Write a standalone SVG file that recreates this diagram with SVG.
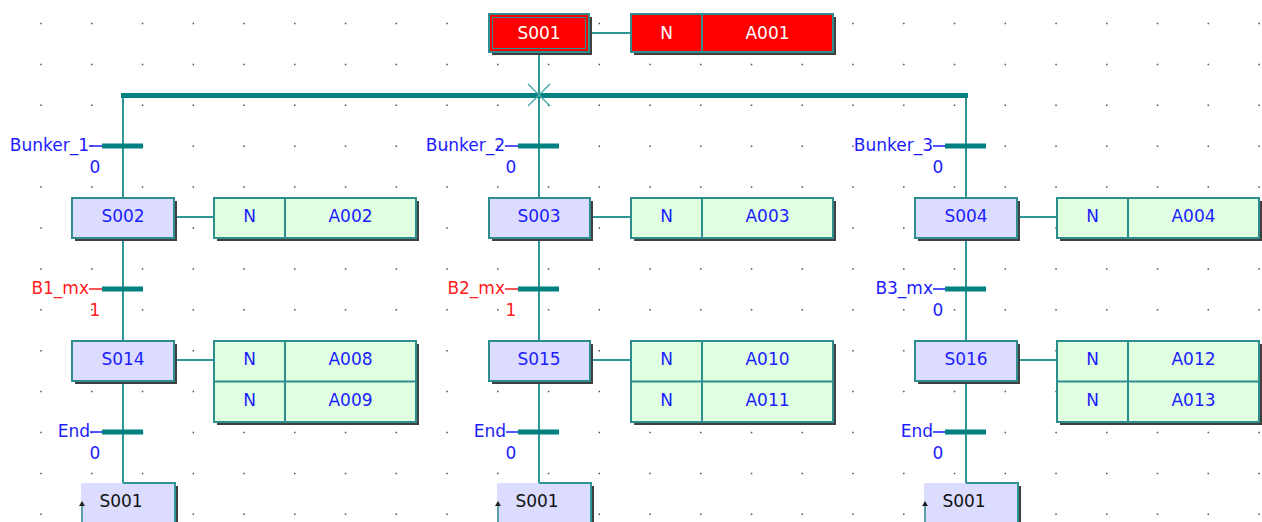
<svg xmlns="http://www.w3.org/2000/svg" width="1262" height="522" viewBox="0 0 1262 522">
<style>
.dot{stroke:#505050;stroke-width:1.5;stroke-dasharray:1.5 49.25}
.ln{stroke:#2e9696;stroke-width:2;fill:none}
.bar{stroke:#008080;stroke-width:5}
.star{stroke:#4aa8a8;stroke-width:1.5}
.sh{fill:#404040}
.step{fill:#dcdcff;stroke:#2e8e8e;stroke-width:2}
.act{fill:#e0ffe0;stroke:#2e8e8e;stroke-width:2}
.red{fill:#ff0000;stroke:#2e8e8e;stroke-width:2}
.div{stroke:#2e8e8e;stroke-width:2}
.dsh{stroke-width:1.5}
.jf{fill:#dcdcff}
.jsh{stroke:#404040;stroke-width:2}
text{font-family:"DejaVu Sans",Verdana,sans-serif;font-size:17px}
.c{text-anchor:middle}
.e{text-anchor:end}
.blue{fill:#1c1cff}
.rt{fill:#ff1c1c}
.wt{fill:#ffffff}
.bk{fill:#111111}
</style>
<rect width="1262" height="522" fill="#ffffff"/>
<g id="grid">
<line class="dot" x1="40.3" y1="23.5" x2="1262" y2="23.5"/>
<line class="dot" x1="40.3" y1="64.4" x2="1262" y2="64.4"/>
<line class="dot" x1="40.3" y1="105.3" x2="1262" y2="105.3"/>
<line class="dot" x1="40.3" y1="146.2" x2="1262" y2="146.2"/>
<line class="dot" x1="40.3" y1="187.1" x2="1262" y2="187.1"/>
<line class="dot" x1="40.3" y1="228" x2="1262" y2="228"/>
<line class="dot" x1="40.3" y1="268.9" x2="1262" y2="268.9"/>
<line class="dot" x1="40.3" y1="309.8" x2="1262" y2="309.8"/>
<line class="dot" x1="40.3" y1="350.7" x2="1262" y2="350.7"/>
<line class="dot" x1="40.3" y1="391.6" x2="1262" y2="391.6"/>
<line class="dot" x1="40.3" y1="432.5" x2="1262" y2="432.5"/>
<line class="dot" x1="40.3" y1="473.4" x2="1262" y2="473.4"/>
<line class="dot" x1="40.3" y1="514.3" x2="1262" y2="514.3"/>
</g>

<g id="connectors">
<line class="ln" x1="123" y1="95" x2="123" y2="483"/>
<line class="ln" x1="539" y1="52" x2="539" y2="483"/>
<line class="ln" x1="966" y1="95" x2="966" y2="483"/>
<line class="bar" x1="121" y1="95.5" x2="968" y2="95.5"/>
<line class="star" x1="528" y1="84" x2="550" y2="106"/>
<line class="star" x1="550" y1="84" x2="528" y2="106"/>
<line class="ln" x1="589" y1="33" x2="631" y2="33"/>
<line class="ln" x1="174" y1="217" x2="214" y2="217"/>
<line class="ln" x1="174" y1="360" x2="214" y2="360"/>
<line class="ln" x1="590" y1="217" x2="631" y2="217"/>
<line class="ln" x1="590" y1="360" x2="631" y2="360"/>
<line class="ln" x1="1017" y1="217" x2="1057" y2="217"/>
<line class="ln" x1="1017" y1="360" x2="1057" y2="360"/>
</g>

<g id="S001">
<rect class="sh" x="492" y="17" width="100" height="38"/>
<rect class="red" x="489" y="14" width="100" height="38"/>
<rect x="492.5" y="17.5" width="93" height="31" fill="none" stroke="#2e8e8e" stroke-width="1"/>
<text class="c wt" x="539" y="39">S001</text>
</g>
<g id="A001">
<rect class="sh" x="634" y="17" width="202" height="38"/>
<rect class="red" x="631" y="14" width="202" height="38"/>
<line class="div" x1="702" y1="14" x2="702" y2="52"/>
<text class="c wt" x="666.5" y="39">N</text>
<text class="c wt" x="767.5" y="39">A001</text>
</g>

<!-- Branch 1 -->
<g id="T_Bunker_1">
<line class="bar" x1="102" y1="146" x2="143" y2="146"/>
<line class="dsh" stroke="#1c1cff" x1="89" y1="146" x2="102" y2="146"/>
<text class="e blue" x="89" y="151">Bunker_1</text>
<text class="c blue" x="95" y="173">0</text>
</g>
<g id="S002">
<rect class="sh" x="75" y="201" width="102" height="40"/>
<rect class="step" x="72" y="198" width="102" height="40"/>
<text class="c blue" x="123" y="222">S002</text>
</g>
<g id="A002">
<rect class="sh" x="217" y="201" width="202" height="40"/>
<rect class="act" x="214" y="198" width="202" height="40"/>
<line class="div" x1="285" y1="198" x2="285" y2="238"/>
<text class="c blue" x="249.5" y="222">N</text>
<text class="c blue" x="350.5" y="222">A002</text>
</g>
<g id="T_B1_mx">
<line class="bar" x1="102" y1="289" x2="143" y2="289"/>
<line class="dsh" stroke="#ff1c1c" x1="89" y1="289" x2="102" y2="289"/>
<text class="e rt" x="89" y="294">B1_mx</text>
<text class="c rt" x="95" y="316">1</text>
</g>
<g id="S014">
<rect class="sh" x="75" y="344" width="102" height="40"/>
<rect class="step" x="72" y="341" width="102" height="40"/>
<text class="c blue" x="123" y="365">S014</text>
</g>
<g id="A008_A009">
<rect class="sh" x="217" y="344" width="202" height="81"/>
<rect class="act" x="214" y="341" width="202" height="81"/>
<line class="div" x1="214" y1="381.5" x2="416" y2="381.5"/>
<line class="div" x1="285" y1="341" x2="285" y2="422"/>
<text class="c blue" x="249.5" y="365">N</text>
<text class="c blue" x="350.5" y="365">A008</text>
<text class="c blue" x="249.5" y="406">N</text>
<text class="c blue" x="350.5" y="406">A009</text>
</g>
<g id="T_End_1">
<line class="bar" x1="102" y1="432" x2="143" y2="432"/>
<line class="dsh" stroke="#1c1cff" x1="90" y1="432" x2="102" y2="432"/>
<text class="e blue" x="90" y="437">End</text>
<text class="c blue" x="95" y="459">0</text>
</g>
<g id="J_S001_1">
<rect class="jf" x="81" y="483" width="94" height="40"/>
<polyline class="ln" points="123,483 175,483 175,522"/>
<line class="jsh" x1="177" y1="486" x2="177" y2="522"/>
<line stroke="#2e8e8e" stroke-width="1.5" x1="82" y1="505" x2="82" y2="522"/>
<polygon points="79,506 82,501 85,506" fill="#222"/>
<text class="c bk" x="121" y="507">S001</text>
</g>

<!-- Branch 2 -->
<g id="T_Bunker_2">
<line class="bar" x1="518" y1="146" x2="559" y2="146"/>
<line class="dsh" stroke="#1c1cff" x1="505" y1="146" x2="518" y2="146"/>
<text class="e blue" x="505" y="151">Bunker_2</text>
<text class="c blue" x="511" y="173">0</text>
</g>
<g id="S003">
<rect class="sh" x="492" y="201" width="101" height="40"/>
<rect class="step" x="489" y="198" width="101" height="40"/>
<text class="c blue" x="539" y="222">S003</text>
</g>
<g id="A003">
<rect class="sh" x="634" y="201" width="202" height="40"/>
<rect class="act" x="631" y="198" width="202" height="40"/>
<line class="div" x1="702" y1="198" x2="702" y2="238"/>
<text class="c blue" x="666.5" y="222">N</text>
<text class="c blue" x="767.5" y="222">A003</text>
</g>
<g id="T_B2_mx">
<line class="bar" x1="518" y1="289" x2="559" y2="289"/>
<line class="dsh" stroke="#ff1c1c" x1="505" y1="289" x2="518" y2="289"/>
<text class="e rt" x="505" y="294">B2_mx</text>
<text class="c rt" x="511" y="316">1</text>
</g>
<g id="S015">
<rect class="sh" x="492" y="344" width="101" height="40"/>
<rect class="step" x="489" y="341" width="101" height="40"/>
<text class="c blue" x="539" y="365">S015</text>
</g>
<g id="A010_A011">
<rect class="sh" x="634" y="344" width="202" height="81"/>
<rect class="act" x="631" y="341" width="202" height="81"/>
<line class="div" x1="631" y1="381.5" x2="833" y2="381.5"/>
<line class="div" x1="702" y1="341" x2="702" y2="422"/>
<text class="c blue" x="666.5" y="365">N</text>
<text class="c blue" x="767.5" y="365">A010</text>
<text class="c blue" x="666.5" y="406">N</text>
<text class="c blue" x="767.5" y="406">A011</text>
</g>
<g id="T_End_2">
<line class="bar" x1="518" y1="432" x2="559" y2="432"/>
<line class="dsh" stroke="#1c1cff" x1="506" y1="432" x2="518" y2="432"/>
<text class="e blue" x="506" y="437">End</text>
<text class="c blue" x="511" y="459">0</text>
</g>
<g id="J_S001_2">
<rect class="jf" x="497" y="483" width="94" height="40"/>
<polyline class="ln" points="539,483 591,483 591,522"/>
<line class="jsh" x1="593" y1="486" x2="593" y2="522"/>
<line stroke="#2e8e8e" stroke-width="1.5" x1="498" y1="505" x2="498" y2="522"/>
<polygon points="495,506 498,501 501,506" fill="#222"/>
<text class="c bk" x="537" y="507">S001</text>
</g>

<!-- Branch 3 -->
<g id="T_Bunker_3">
<line class="bar" x1="945" y1="146" x2="986" y2="146"/>
<line class="dsh" stroke="#1c1cff" x1="933" y1="146" x2="945" y2="146"/>
<text class="e blue" x="933" y="151">Bunker_3</text>
<text class="c blue" x="938" y="173">0</text>
</g>
<g id="S004">
<rect class="sh" x="918" y="201" width="102" height="40"/>
<rect class="step" x="915" y="198" width="102" height="40"/>
<text class="c blue" x="966" y="222">S004</text>
</g>
<g id="A004">
<rect class="sh" x="1060" y="201" width="202" height="40"/>
<rect class="act" x="1057" y="198" width="202" height="40"/>
<line class="div" x1="1128" y1="198" x2="1128" y2="238"/>
<text class="c blue" x="1092.5" y="222">N</text>
<text class="c blue" x="1193.5" y="222">A004</text>
</g>
<g id="T_B3_mx">
<line class="bar" x1="945" y1="289" x2="986" y2="289"/>
<line class="dsh" stroke="#1c1cff" x1="933" y1="289" x2="945" y2="289"/>
<text class="e blue" x="933" y="294">B3_mx</text>
<text class="c blue" x="938" y="316">0</text>
</g>
<g id="S016">
<rect class="sh" x="918" y="344" width="102" height="40"/>
<rect class="step" x="915" y="341" width="102" height="40"/>
<text class="c blue" x="966" y="365">S016</text>
</g>
<g id="A012_A013">
<rect class="sh" x="1060" y="344" width="202" height="81"/>
<rect class="act" x="1057" y="341" width="202" height="81"/>
<line class="div" x1="1057" y1="381.5" x2="1259" y2="381.5"/>
<line class="div" x1="1128" y1="341" x2="1128" y2="422"/>
<text class="c blue" x="1092.5" y="365">N</text>
<text class="c blue" x="1193.5" y="365">A012</text>
<text class="c blue" x="1092.5" y="406">N</text>
<text class="c blue" x="1193.5" y="406">A013</text>
</g>
<g id="T_End_3">
<line class="bar" x1="945" y1="432" x2="986" y2="432"/>
<line class="dsh" stroke="#1c1cff" x1="933" y1="432" x2="945" y2="432"/>
<text class="e blue" x="933" y="437">End</text>
<text class="c blue" x="938" y="459">0</text>
</g>
<g id="J_S001_3">
<rect class="jf" x="924" y="483" width="94" height="40"/>
<polyline class="ln" points="966,483 1018,483 1018,522"/>
<line class="jsh" x1="1020" y1="486" x2="1020" y2="522"/>
<line stroke="#2e8e8e" stroke-width="1.5" x1="925" y1="505" x2="925" y2="522"/>
<polygon points="922,506 925,501 928,506" fill="#222"/>
<text class="c bk" x="964" y="507">S001</text>
</g>
</svg>
